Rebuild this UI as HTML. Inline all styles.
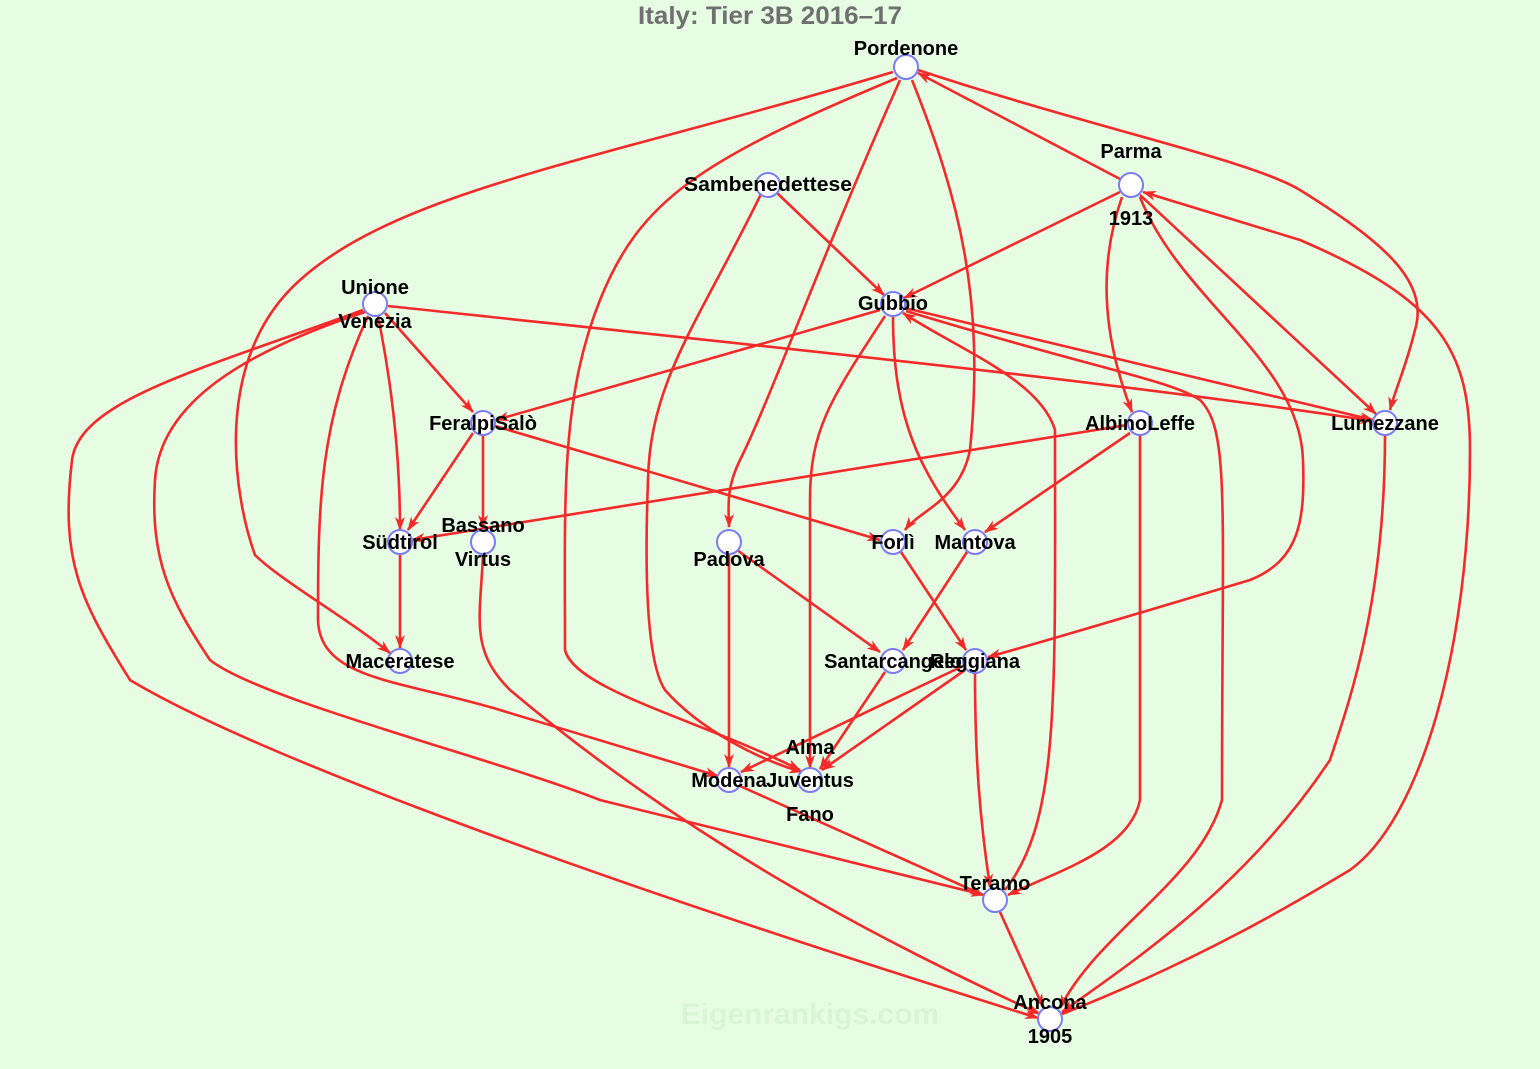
<!DOCTYPE html>
<html><head><meta charset="utf-8"><style>
html,body{margin:0;padding:0;background:#e6fde4;}
svg{display:block}
text{font-family:"Liberation Sans",Arial,sans-serif;font-weight:bold;}
</style></head><body>
<svg width="1540" height="1069" viewBox="0 0 1540 1069" xmlns="http://www.w3.org/2000/svg">
<rect width="1540" height="1069" fill="#e6fde4"/>
<defs><marker id="a" markerWidth="14" markerHeight="10" refX="13" refY="5" orient="auto" markerUnits="userSpaceOnUse"><path d="M0,0 L14,5 L0,10 L4,5 Z" fill="#f42a2a"/></marker></defs>
<text x="770" y="24" font-size="25" fill="#707070" text-anchor="middle" textLength="264" lengthAdjust="spacingAndGlyphs">Italy: Tier 3B 2016–17</text>
<text x="810" y="1024" font-size="30" fill="#d8f5d4" text-anchor="middle">Eigenrankigs.com</text>
<g fill="none" stroke="#f42a2a" stroke-width="2.6" marker-end="url(#a)">
<path d="M893,72 C600,160 400,190 300,280 C210,360 235,500 255,555 C280,580 350,620 390,653"/>
<path d="M1120,179 L918,73"/>
<path d="M918,70 C1100,130 1250,160 1300,190 C1380,240 1430,280 1415,330 C1405,370 1395,390 1390,410"/>
<path d="M897,78 C700,160 640,200 600,300 C560,400 565,500 565,650 C575,690 700,720 800,770"/>
<path d="M900,80 C820,260 770,400 740,460 C725,490 729,510 729,527"/>
<path d="M912,80 C960,200 985,300 970,450 C960,500 920,510 905,530"/>
<path d="M776,192 L884,295"/>
<path d="M762,192 C700,320 650,380 648,480 C645,560 645,660 665,690 C700,730 760,760 802,772"/>
<path d="M1120,192 L904,298"/>
<path d="M1122,197 C1100,260 1100,330 1132,412"/>
<path d="M1140,195 L1376,414"/>
<path d="M1140,197 C1180,300 1300,360 1303,460 C1305,520 1300,560 1250,580 C1150,610 1050,640 988,657"/>
<path d="M1062,1014 C1200,960 1300,900 1350,870 C1420,820 1470,650 1470,450 C1470,350 1440,300 1300,240 L1143,192"/>
<path d="M388,306 C800,350 1100,380 1373,421"/>
<path d="M385,313 L473,412"/>
<path d="M378,316 C395,400 400,470 400,530"/>
<path d="M368,316 C320,420 318,500 318,620 C320,680 400,680 500,710 L718,776"/>
<path d="M365,312 C250,350 160,400 155,480 C150,560 170,600 210,660 C260,700 500,760 600,800 L984,895"/>
<path d="M363,310 C200,370 80,400 72,460 C60,560 80,600 130,680 C230,740 500,850 1038,1018"/>
<path d="M880,310 L496,420"/>
<path d="M893,316 C893,420 920,470 965,530"/>
<path d="M905,308 L1373,420"/>
<path d="M885,316 C830,400 810,430 810,500 L810,768"/>
<path d="M1005,890 C1060,820 1055,700 1055,430 C1040,380 960,350 903,313"/>
<path d="M906,311 C1100,370 1170,380 1200,400 C1230,430 1222,500 1222,800 C1200,880 1100,930 1060,1008"/>
<path d="M473,433 L408,530"/>
<path d="M483,435 L483,528"/>
<path d="M495,426 L880,540"/>
<path d="M1127,425 L412,540"/>
<path d="M1130,433 L985,532"/>
<path d="M1140,435 L1140,800 C1130,850 1060,870 1008,895"/>
<path d="M1385,435 C1385,600 1350,700 1330,760 C1250,880 1150,950 1062,1012"/>
<path d="M400,555 L400,648"/>
<path d="M483,555 C480,620 470,650 510,690 C700,850 900,950 1040,1014"/>
<path d="M737,550 L880,652"/>
<path d="M729,555 L729,767"/>
<path d="M901,552 L966,650"/>
<path d="M967,552 L903,650"/>
<path d="M885,672 L820,769"/>
<path d="M965,670 L822,770"/>
<path d="M963,666 L741,772"/>
<path d="M975,673 C975,760 980,820 990,887"/>
<path d="M740,786 L983,895"/>
<path d="M1000,912 L1043,1007"/>
</g>
<g fill="#ffffff" stroke="#7b7bf5" stroke-width="2">
<circle cx="906" cy="67" r="12"/><circle cx="1131" cy="185" r="12"/><circle cx="768" cy="185" r="12"/>
<circle cx="375" cy="304" r="12"/><circle cx="893" cy="304" r="12"/><circle cx="483" cy="423" r="12"/>
<circle cx="1140" cy="423" r="12"/><circle cx="1385" cy="423" r="12"/><circle cx="400" cy="542" r="12"/>
<circle cx="483" cy="542" r="12"/><circle cx="729" cy="542" r="12"/><circle cx="893" cy="542" r="12"/>
<circle cx="975" cy="542" r="12"/><circle cx="400" cy="661" r="12"/><circle cx="893" cy="661" r="12"/>
<circle cx="975" cy="661" r="12"/><circle cx="729" cy="780" r="12"/><circle cx="810" cy="780" r="12"/>
<circle cx="995" cy="900" r="12"/><circle cx="1050" cy="1019" r="12"/>
</g>
<g font-size="20" fill="#000" text-anchor="middle">
<text x="906" y="55">Pordenone</text>
<text x="1131" y="158">Parma</text><text x="1131" y="225">1913</text>
<text x="768" y="191" textLength="168" lengthAdjust="spacingAndGlyphs">Sambenedettese</text>
<text x="375" y="294">Unione</text><text x="375" y="328">Venezia</text>
<text x="893" y="310">Gubbio</text>
<text x="483" y="430">FeralpiSalò</text>
<text x="1140" y="430">AlbinoLeffe</text>
<text x="1385" y="430">Lumezzane</text>
<text x="400" y="549">Südtirol</text>
<text x="483" y="532">Bassano</text><text x="483" y="566">Virtus</text>
<text x="729" y="566">Padova</text>
<text x="893" y="549">Forlì</text>
<text x="975" y="549">Mantova</text>
<text x="400" y="668">Maceratese</text>
<text x="893" y="668">Santarcangelo</text>
<text x="975" y="668">Reggiana</text>
<text x="729" y="787">Modena</text>
<text x="810" y="754">Alma</text><text x="810" y="787">Juventus</text><text x="810" y="821">Fano</text>
<text x="995" y="890">Teramo</text>
<text x="1050" y="1009">Ancona</text><text x="1050" y="1043">1905</text>
</g>
</svg>
</body></html>
